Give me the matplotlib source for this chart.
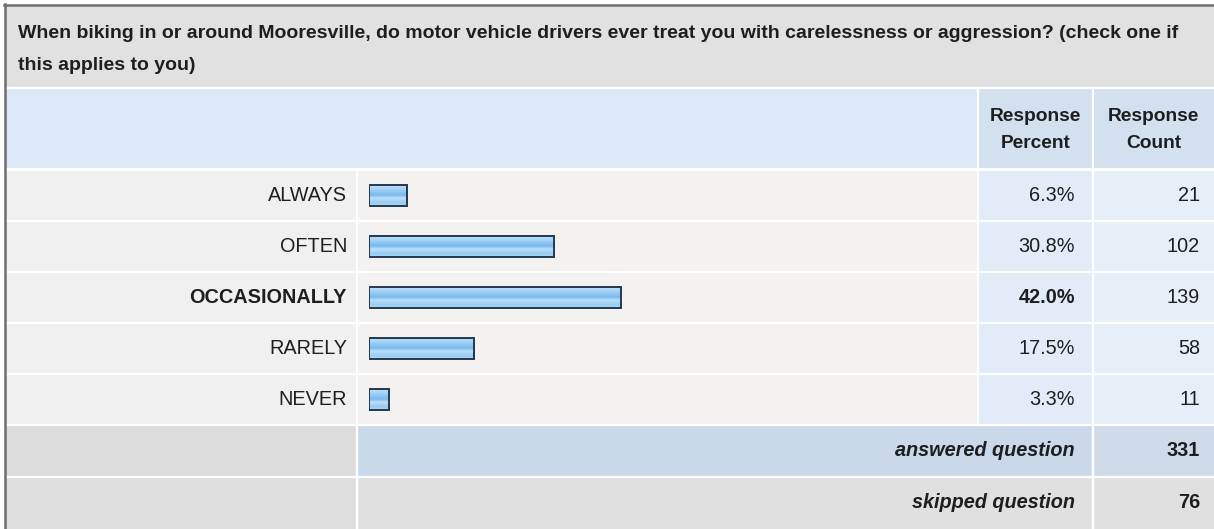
import matplotlib
matplotlib.use("Agg")
import matplotlib.pyplot as plt
import numpy as np
from matplotlib.patches import Rectangle
from matplotlib.colors import LinearSegmentedColormap

plt.rcParams['font.family'] = ['Liberation Sans', 'DejaVu Sans']

# ---- survey data ----
question = ("When biking in or around Mooresville, do motor vehicle drivers ever treat you with carelessness or aggression? (check one if\n"
            "this applies to you)")
answers = ["ALWAYS", "OFTEN", "OCCASIONALLY", "RARELY", "NEVER"]
percents = [6.3, 30.8, 42.0, 17.5, 3.3]
counts = [21, 102, 139, 58, 11]
header_percent = "Response\nPercent"
header_count = "Response\nCount"
summary_labels = ["answered question", "skipped question"]
summary_counts = [331, 76]

W, H = 1214, 529
fig = plt.figure(figsize=(W / 100, H / 100), dpi=100)
bg = fig.add_axes([0, 0, 1, 1])
bg.set_xlim(0, W)
bg.set_ylim(H, 0)
bg.axis('off')

# table geometry (pixels)
left, right = 5, 1214
col_bar, col_pct, col_cnt = 357, 978, 1093
title_top, title_bot = 5, 87
head_bot = 168
row_h = 51
rows_top = 170
txt = '#1e1e1e'
fs_title = 14.0
fs_head = 13.8
fs_body = 14.3


def rect(x0, y0, x1, y1, color, z=0):
    bg.add_patch(Rectangle((x0, y0), x1 - x0, y1 - y0, facecolor=color,
                           edgecolor='none', zorder=z))


def vline(x, y0, y1, color='white', lw=1.6):
    bg.plot([x, x], [y0, y1], color=color, lw=lw, zorder=2, solid_capstyle='butt')


def hline(y, x0=left, x1=right, color='white', lw=1.6):
    bg.plot([x0, x1], [y, y], color=color, lw=lw, zorder=2, solid_capstyle='butt')


# title band
rect(left, title_top, right, title_bot, '#e1e1e1')
line1, line2 = question.split('\n')
bg.text(18, 34, line1, fontsize=fs_title, fontweight='bold', color=txt, va='center', ha='left')
bg.text(18, 65, line2, fontsize=fs_title, fontweight='bold', color=txt, va='center', ha='left')

# header band
rect(left, title_bot + 1, col_pct, head_bot, '#dde8f7')
rect(col_pct, title_bot + 1, right, head_bot, '#d3e0ef')
hline(title_bot + 0.5)
vline(col_pct, title_bot, head_bot)
vline(col_cnt, title_bot, head_bot)
for x0, x1, lab in [(col_pct, col_cnt, header_percent), (col_cnt, right, header_count)]:
    bg.text((x0 + x1) / 2, 130, lab, fontsize=fs_head, fontweight='bold', color=txt,
            ha='center', va='center', linespacing=1.8)

hline(head_bot + 1, lw=2.2)

# answer rows
for i, (lab, pct, cnt) in enumerate(zip(answers, percents, counts)):
    y0 = rows_top + i * row_h
    y1 = y0 + row_h
    yc = (y0 + y1) / 2
    rect(left, y0, col_bar, y1, '#f0f0f0')
    rect(col_bar, y0, col_pct, y1, '#f3f2f0')
    rect(col_pct, y0, col_cnt, y1, '#e2ebf7')
    rect(col_cnt, y0, right, y1, '#e6eef8')
    hline(y1)
    is_max = pct == max(percents)
    w = 'bold' if is_max else 'normal'
    bg.text(347, yc, lab, fontsize=fs_body, fontweight=w, color=txt, ha='right', va='center')
    bg.text(1075, yc, f"{pct:.1f}%", fontsize=fs_body, fontweight=w, color=txt, ha='right', va='center')
    bg.text(1200, yc, str(cnt), fontsize=fs_body, color=txt, ha='right', va='center')
vline(col_bar, rows_top, H)
vline(col_pct, rows_top, rows_top + len(answers) * row_h)
vline(col_cnt, rows_top, H)

# summary rows
sum_top = rows_top + len(answers) * row_h
sum_colors = [('#dcdcdc', '#cad9ea', '#cfdbe9'), ('#dedede', '#e0e0e0', '#e0e0e0')]
for j, (lab, cnt) in enumerate(zip(summary_labels, summary_counts)):
    y0 = sum_top + j * row_h + (1 if j else 0)
    y1 = y0 + row_h + (2 if j else 1)
    c_lab, c_mid, c_cnt = sum_colors[j]
    rect(left, y0, col_bar, y1, c_lab)
    rect(col_bar, y0, col_cnt, y1, c_mid)
    rect(col_cnt, y0, right, y1, c_cnt)
    yc = y0 + row_h / 2
    bg.text(1075, yc, lab, fontsize=fs_body, fontweight='bold', fontstyle='italic',
            color=txt, ha='right', va='center')
    bg.text(1200, yc, str(cnt), fontsize=fs_body, fontweight='bold', color=txt,
            ha='right', va='center')
hline(sum_top + row_h + 0.5)
vline(col_bar, sum_top, H)
vline(col_cnt, sum_top, H)

# outer frame (top and left edges)
bg.plot([left - 0.5, left - 0.5], [title_top - 1, H], color='#6e6e6e', lw=1.8, zorder=5)
bg.plot([left - 1, right], [title_top - 0.5, title_top - 0.5], color='#6e6e6e', lw=1.8, zorder=5)

# bar chart axes: 6 px per percentage point
bar_x0 = 369
ax = fig.add_axes([bar_x0 / W, 1 - (rows_top + len(answers) * row_h) / H,
                   600 / W, len(answers) * row_h / H])
ax.axis('off')
ax.patch.set_alpha(0)

grad = LinearSegmentedColormap.from_list(
    'barfill', [(0.0, '#c4e3fb'), (0.3, '#98ccf4'), (0.5, '#78b8ee'),
                (0.64, '#bcdffa'), (0.85, '#96ccf4'), (1.0, '#acd7f7')])
gimg = np.linspace(0, 1, 64).reshape(-1, 1)
bars = ax.barh(range(len(answers)), percents, height=0.43, color='none',
               edgecolor='#23384d', linewidth=1.4, zorder=3)
for b in bars:
    x, y = b.get_x(), b.get_y()
    bw, bh = b.get_width(), b.get_height()
    im = ax.imshow(gimg, cmap=grad, aspect='auto', extent=(x, x + bw, y + bh, y),
                   zorder=2, interpolation='bilinear')
    im.set_clip_path(b)
ax.set_xlim(0, 100)
ax.set_ylim(len(answers) - 0.5, -0.5)

fig.savefig('out.png', dpi=100)
